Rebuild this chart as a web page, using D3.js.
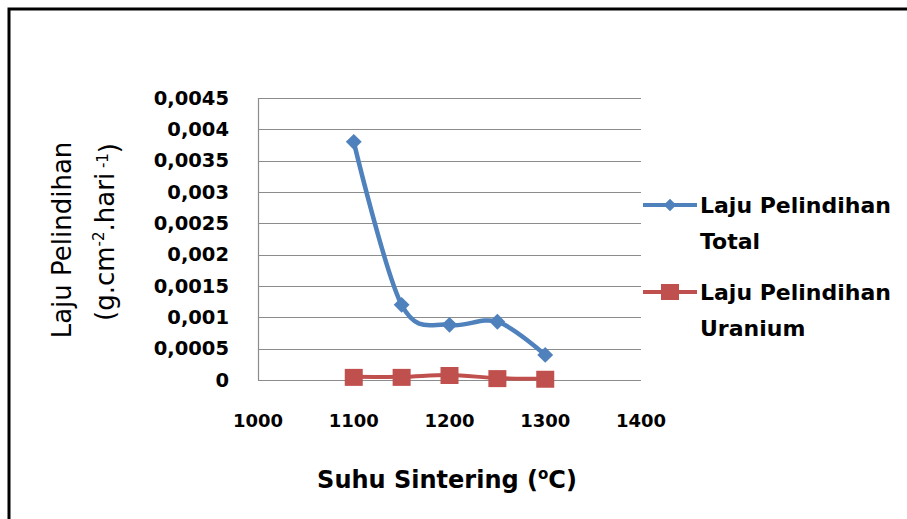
<!DOCTYPE html>
<html><head><meta charset="utf-8">
<script src="https://cdn.jsdelivr.net/npm/d3@7"></script>
<style>body{margin:0;background:#fff}svg{display:block}text{font-family:"DejaVu Sans",sans-serif}</style>
</head><body>
<script>
const temps = [1100, 1150, 1200, 1250, 1300];
const totalRate = [0.0038, 0.0012, 0.00088, 0.00093, 0.0004];
const uraniumRate = [0.00005, 0.00005, 0.00008, 0.00003, 0.00002];
const xTicks = [1000, 1100, 1200, 1300, 1400];
const yTicks = [0, 0.0005, 0.001, 0.0015, 0.002, 0.0025, 0.003, 0.0035, 0.004, 0.0045];
const seriesNames = ["Laju Pelindihan Total", "Laju Pelindihan Uranium"];

const W = 907, H = 519;
const svg = d3.select("body").append("svg").attr("width", W).attr("height", H);

// frame
svg.append("path").attr("d", `M9,${H+5}V9H${W+5}`).attr("fill","none").attr("stroke","#000").attr("stroke-width",3);

const x = d3.scaleLinear().domain([1000, 1400]).range([258, 641]);
const y = d3.scaleLinear().domain([0, 0.0045]).range([380, 98]);
const fmt = v => v === 0 ? "0" : d3.format(".4~f")(v).replace(".", ",");

// gridlines
svg.append("g").selectAll("line").data(yTicks).join("line")
  .attr("x1", 258).attr("x2", 641).attr("y1", d => Math.round(y(d)) + 0.5).attr("y2", d => Math.round(y(d)) + 0.5)
  .attr("stroke", "#8c8c8c").attr("stroke-width", 1.2);
svg.append("line").attr("x1", 258.5).attr("x2", 258.5).attr("y1", y(0.0045)).attr("y2", y(0)).attr("stroke", "#8c8c8c").attr("stroke-width",1.2);

// y tick labels
svg.append("g").selectAll("text").data(yTicks).join("text")
  .attr("x", 229).attr("y", d => y(d)).attr("dy", "0.35em").attr("text-anchor", "end")
  .attr("font-size", 19.5).attr("font-weight", "bold").attr("fill", "#000").text(fmt);
// x tick labels
svg.append("g").selectAll("text").data(xTicks).join("text")
  .attr("x", d => x(d)).attr("y", 421).attr("dy", "0.35em").attr("text-anchor", "middle")
  .attr("font-size", 18).attr("font-weight", "bold").attr("fill", "#000").text(d => d);

// axis titles
const xt = svg.append("text").attr("x", 447).attr("y", 480).attr("dy", "0.35em").attr("text-anchor", "middle")
  .attr("font-size", 24).attr("font-weight", "bold").attr("fill", "#000");
xt.append("tspan").text("Suhu Sintering (");
xt.append("tspan").text("o").attr("font-size", 15).attr("dy", "-0.6em");
xt.append("tspan").text("C)").attr("dy", "0.37em");

const yt = svg.append("g").attr("transform", "translate(0,240) rotate(-90)");
yt.append("text").attr("y", 71).attr("text-anchor", "middle").attr("font-size", 26).attr("fill", "#000").text("Laju Pelindihan");
const yt2 = yt.append("text").attr("x", 8).attr("y", 114).attr("text-anchor", "middle").attr("font-size", 26).attr("fill", "#000");
yt2.append("tspan").text("(g.cm");
yt2.append("tspan").text("-2").attr("font-size", 15).attr("dy", "-0.7em");
yt2.append("tspan").text(".hari").attr("dy", "0.4em");
yt2.append("tspan").text(" -1").attr("font-size", 15).attr("dy", "-0.4em");
yt2.append("tspan").text(")").attr("dy", "0.4em");

const blue = "#4f81bd", red = "#c0504d";
const line = d3.line().x(d => x(d[0])).y(d => y(d[1])).curve(d3.curveCardinal.tension(0));
const totalData = temps.map((t, i) => [t, totalRate[i]]);
const uranData = temps.map((t, i) => [t, uraniumRate[i]]);

svg.append("path").attr("d", line(totalData)).attr("fill", "none").attr("stroke", blue).attr("stroke-width", 4.5);
svg.append("path").attr("d", line(uranData)).attr("fill", "none").attr("stroke", red).attr("stroke-width", 4);

const diamond = d3.symbol().type(d3.symbolDiamond2).size(160);
svg.append("g").selectAll("path").data(totalData).join("path")
  .attr("transform", d => `translate(${x(d[0])},${y(d[1])})`).attr("d", diamond()).attr("fill", blue);
svg.append("g").selectAll("rect").data(uranData).join("rect")
  .attr("x", d => x(d[0]) - 9).attr("y", d => y(d[1]) - 8).attr("width", 18).attr("height", 17).attr("fill", red);

// legend
const legDiamond = d3.symbol().type(d3.symbolDiamond2).size(100);
const leg = [[seriesNames[0], blue, 205, "d"], [seriesNames[1], red, 292, "s"]];
leg.forEach(([name, c, ly, m]) => {
  svg.append("line").attr("x1", 643).attr("x2", 697).attr("y1", ly).attr("y2", ly).attr("stroke", c).attr("stroke-width", 4);
  if (m === "d") svg.append("path").attr("transform", `translate(670,${ly})`).attr("d", legDiamond()).attr("fill", c);
  else svg.append("rect").attr("x", 661).attr("y", ly - 8).attr("width", 18).attr("height", 16).attr("fill", c);
  const words = name.split(" ");
  svg.append("text").attr("x", 700).attr("y", ly).attr("dy", "0.36em").attr("font-size", 22).attr("font-weight", "bold").attr("fill", "#000").text(words.slice(0, 2).join(" "));
  svg.append("text").attr("x", 700).attr("y", ly + 36).attr("dy", "0.36em").attr("font-size", 22).attr("font-weight", "bold").attr("fill", "#000").text(words[2]);
});
</script>
</body></html>
